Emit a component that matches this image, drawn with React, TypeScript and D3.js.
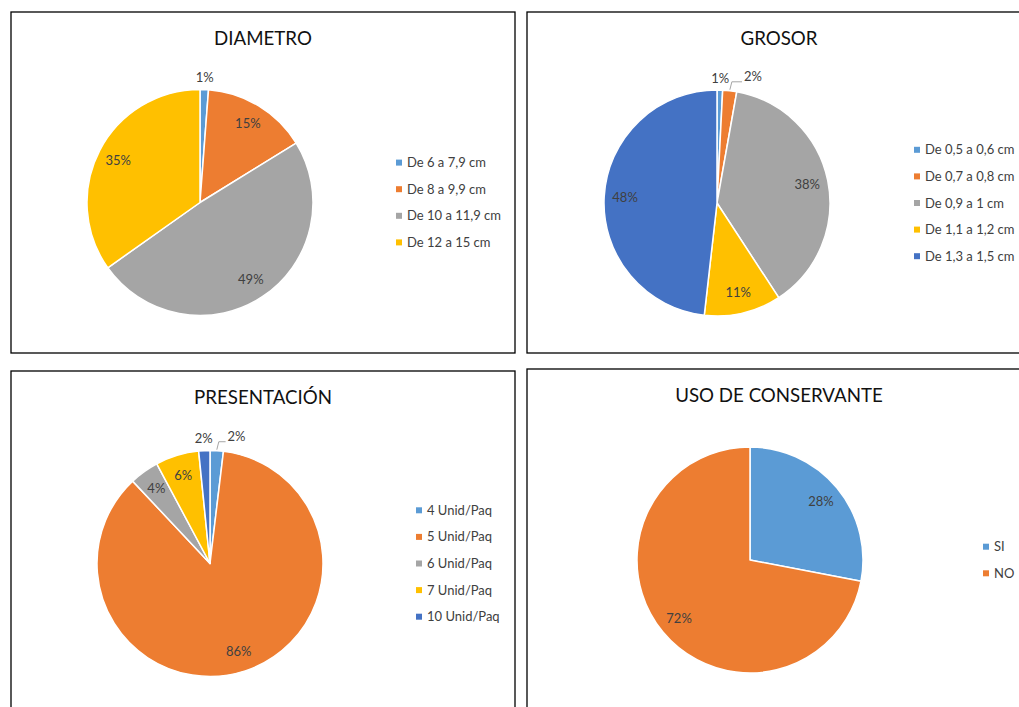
import React from "react";
import * as d3 from "d3";

// ---------- data ----------
const DIAM_TITLE = "DIAMETRO";
const DIAM_CATS = ["De 6 a 7,9 cm", "De 8 a 9,9 cm", "De 10 a 11,9 cm", "De 12 a 15 cm"];
const DIAM_VALS = [1.2, 15.0, 49.0, 34.8];

const GROS_TITLE = "GROSOR";
const GROS_CATS = ["De 0,5 a 0,6 cm", "De 0,7 a 0,8 cm", "De 0,9 a 1 cm", "De 1,1 a 1,2 cm", "De 1,3 a 1,5 cm"];
const GROS_VALS = [0.8, 2.0, 38.0, 11.0, 48.2];

const PRES_TITLE = "PRESENTACIÓN";
const PRES_CATS = ["4 Unid/Paq", "5 Unid/Paq", "6 Unid/Paq", "7 Unid/Paq", "10 Unid/Paq"];
const PRES_VALS = [1.9, 86.1, 4.2, 6.2, 1.6];

const CONS_TITLE = "USO DE CONSERVANTE";
const CONS_CATS = ["SI", "NO"];
const CONS_VALS = [28, 72];

const COLORS = ["#5B9BD5", "#ED7D31", "#A5A5A5", "#FFC000", "#4472C4"];

const FONT = "Lato, 'Open Sans', sans-serif";

type PanelProps = {
  px: number; py: number; pw: number; ph: number;
  title: string; cats: string[]; vals: number[];
  cx: number; cy: number; r: number; legendX: number;
};

function PiePanel(p: PanelProps) {
  const total = d3.sum(p.vals);
  const pie = d3.pie<number>().sort(null).value((d) => d);
  const arcs = pie(p.vals);
  const arc = d3.arc<d3.PieArcDatum<number>>().innerRadius(0).outerRadius(p.r);
  const labelArc = d3.arc<d3.PieArcDatum<number>>().innerRadius(p.r * 0.815).outerRadius(p.r * 0.815);
  const outArc = d3.arc<d3.PieArcDatum<number>>().innerRadius(p.r + 12).outerRadius(p.r + 12);
  const fs = 13;
  const estW = (t: string) => (t.length - 1) * 6.8 + 11;

  type Lab = { x: number; y: number; text: string; outside: boolean; w: number; pushed: boolean; a: number };
  const labs: Lab[] = arcs.map((a) => {
    const frac = a.value / total;
    const text = Math.round(frac * 100) + "%";
    const outside = frac < 0.03;
    const [x, y] = outside ? outArc.centroid(a) : labelArc.centroid(a);
    return { x, y, text, outside, w: estW(text), pushed: false, a: (a.startAngle + a.endAngle) / 2 };
  });
  // resolve overlaps for outside labels near the top
  const outs = labs.filter((l) => l.outside).sort((a, b) => a.x - b.x);
  for (let i = 1; i < outs.length; i++) {
    const prev = outs[i - 1];
    const cur = outs[i];
    const prevRight = prev.x + prev.w / 2;
    if (cur.x - cur.w / 2 < prevRight + 15) {
      cur.x = prevRight + 15 + cur.w / 2;
      cur.y -= 2;
      cur.pushed = true;
    }
  }

  const legendRowH = 26.6;
  const legendTop = p.cy - ((p.cats.length - 1) * legendRowH) / 2;

  return (
    <g transform={`translate(${p.px},${p.py})`}>
      <rect x={0} y={0} width={p.pw} height={p.ph} fill="#fff" stroke="#000" strokeWidth={1.3} />
      <text x={p.pw / 2} y={33} textAnchor="middle" fontSize={18.7} fill="#111" fontFamily={FONT}>
        {p.title}
      </text>
      <g transform={`translate(${p.cx},${p.cy})`}>
        {arcs.map((a, i) => (
          <path key={i} d={arc(a) || ""} fill={COLORS[i % COLORS.length]} stroke="#fff" strokeWidth={1.5} strokeLinejoin="round" />
        ))}
        {labs.map((l, i) => {
          const lead = l.pushed ? (() => {
            const sx = Math.sin(l.a) * (p.r + 1);
            const sy = -Math.cos(l.a) * (p.r + 1);
            const ly = l.y + 5;
            return `M${sx},${sy}L${sx + 2},${ly}L${l.x - l.w / 2 - 2},${ly}`;
          })() : null;
          return (
            <g key={i}>
              {lead && <path d={lead} fill="none" stroke="#A6A6A6" strokeWidth={1} />}
              <text x={l.x} y={l.y} dy="0.35em" textAnchor="middle" fontSize={fs} fill="#404040" fontFamily={FONT}>
                {l.text}
              </text>
            </g>
          );
        })}
      </g>
      {p.cats.map((c, i) => {
        const y = legendTop + i * legendRowH;
        return (
          <g key={c} transform={`translate(${p.legendX},${y})`}>
            <rect x={-3} y={-3} width={6} height={6} fill={COLORS[i % COLORS.length]} />
            <text x={8} y={0} dy="0.35em" fontSize={fs} fill="#404040" fontFamily={FONT}>
              {c}
            </text>
          </g>
        );
      })}
    </g>
  );
}

export default function App() {
  return (
    <svg width={1019} height={707} style={{ position: "absolute", left: 0, top: 0, display: "block", background: "#fff" }}>
      <rect x={0} y={0} width={1019} height={707} fill="#fff" />
      <PiePanel px={11} py={12} pw={504} ph={341} title={DIAM_TITLE} cats={DIAM_CATS} vals={DIAM_VALS}
        cx={189} cy={190.5} r={113} legendX={388} />
      <PiePanel px={527} py={12} pw={504} ph={341} title={GROS_TITLE} cats={GROS_CATS} vals={GROS_VALS}
        cx={190} cy={191} r={113} legendX={390} />
      <PiePanel px={11} py={371} pw={504} ph={341} title={PRES_TITLE} cats={PRES_CATS} vals={PRES_VALS}
        cx={199} cy={192.5} r={113} legendX={408} />
      <PiePanel px={527} py={369} pw={504} ph={341} title={CONS_TITLE} cats={CONS_CATS} vals={CONS_VALS}
        cx={223} cy={191} r={113} legendX={459} />
    </svg>
  );
}
